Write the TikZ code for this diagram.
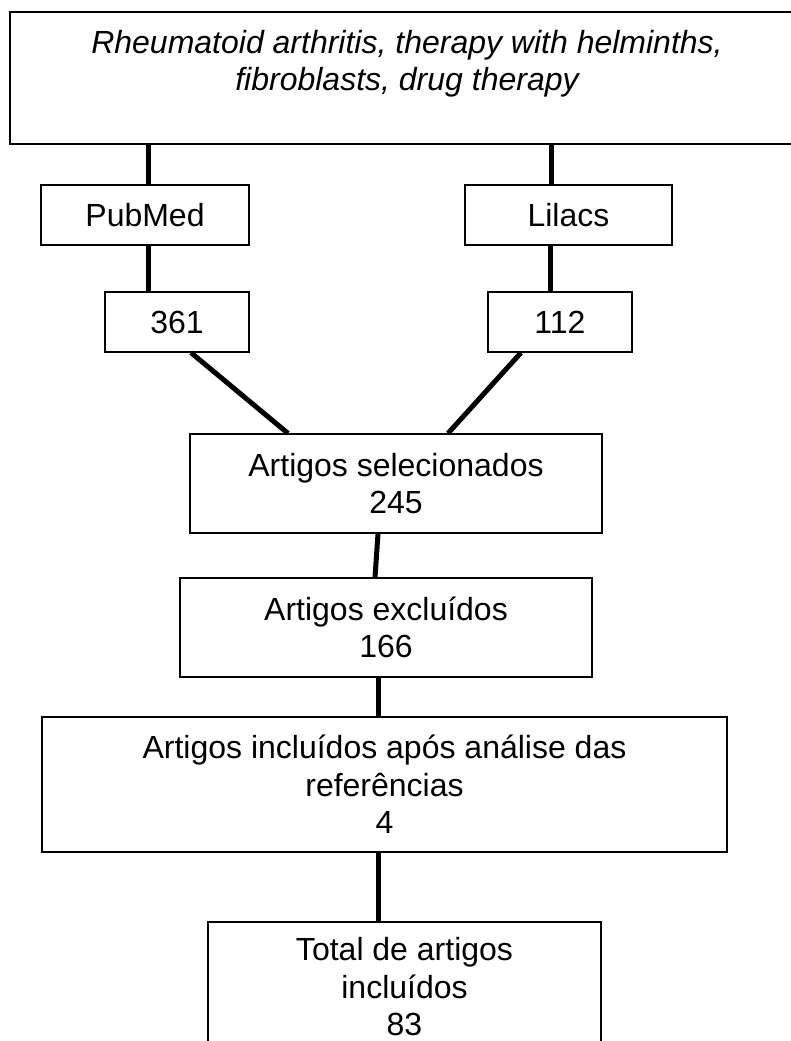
\documentclass[tikz,border=0pt]{standalone}
\usepackage{fontspec}
\setmainfont{Liberation Sans}
\begin{document}
\begin{tikzpicture}[x=1pt,y=-1pt,
  box/.style={draw=black,line width=1.3pt,fill=white,inner sep=0pt,align=center,
    font=\fontsize{32pt}{37.5pt}\selectfont},
  txt/.style={inner sep=0pt,align=center,font=\fontsize{32pt}{37.5pt}\selectfont},
  conn/.style={draw=black,line width=5pt,line cap=butt}]
\fill[white] (0,0) rectangle (791,1041);
\useasboundingbox (0,0) rectangle (791,1041);

% boxes
\node[box,line width=1.8pt,minimum width=794pt,minimum height=132pt] (top) at (407,78) {};
\node[txt] (toptext) at (407,63.5) {\itshape Rheumatoid arthritis, therapy with helminths,\\\itshape fibroblasts, drug therapy};
\node[box,minimum width=208pt,minimum height=60pt] (pub) at (145,215) {PubMed};
\node[box,minimum width=207pt,minimum height=60pt] (lil) at (568.5,215) {Lilacs};
\node[box,minimum width=144pt,minimum height=60pt] (n361) at (177,322) {361};
\node[box,minimum width=144pt,minimum height=60pt] (n112) at (560,322) {112};
\node[box,minimum width=412pt,minimum height=99pt] (sel) at (396,483.5) {Artigos selecionados\\245};
\node[box,minimum width=412pt,minimum height=99pt] (exc) at (386,627.5) {Artigos excluídos\\166};
\node[box,minimum width=685pt,minimum height=135pt] (inc) at (384.5,784.5) {Artigos incluídos após análise das\\referências\\4};
\node[box,minimum width=393pt,minimum height=130pt] (tot) at (404.5,987) {Total de artigos\\incluídos\\83};

% connectors
\draw[conn] ([xshift=3pt]pub.north |- top.south) -- ([xshift=3pt]pub.north);
\draw[conn] ([xshift=-17.5pt]lil.north |- top.south) -- ([xshift=-17.5pt]lil.north);
\draw[conn] ([xshift=3pt]pub.south) -- ([xshift=3pt]pub.south |- n361.north);
\draw[conn] ([xshift=-18.5pt]lil.south) -- ([xshift=-18.5pt]lil.south |- n112.north);
\draw[conn] ([xshift=14pt]n361.south) -- ([xshift=-108pt]sel.north);
\draw[conn] ([xshift=-39pt]n112.south) -- ([xshift=52pt]sel.north);
\draw[conn] ([xshift=-18pt]sel.south) -- ([xshift=-11pt]exc.north);
\draw[conn] ([xshift=-8pt]exc.south) -- ([xshift=-8pt]exc.south |- inc.north);
\draw[conn] ([xshift=-6.5pt]inc.south) -- ([xshift=-6.5pt]inc.south |- tot.north);
\end{tikzpicture}
\end{document}
